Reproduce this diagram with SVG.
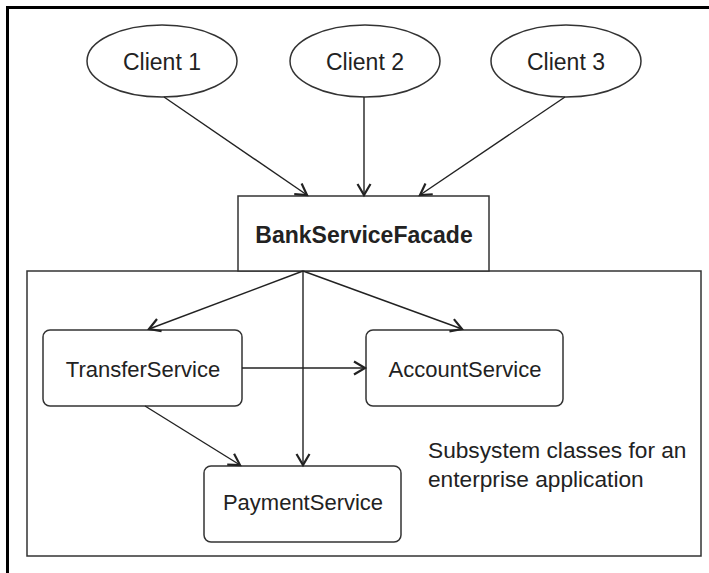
<svg xmlns="http://www.w3.org/2000/svg" width="709" height="573" viewBox="0 0 709 573">
<style>
.lbl{font-family:"Liberation Sans",Arial,sans-serif;font-size:22px;fill:#222;}
.node{fill:#fff;stroke:#333;stroke-width:1.5;}
.edge{fill:none;stroke:#222;stroke-width:1.4;marker-end:url(#arr);}
</style>
<defs>
<marker id="arr" markerUnits="userSpaceOnUse" markerWidth="16" markerHeight="16" refX="13" refY="8" orient="auto">
<path d="M2,1.5 L13,8 L2,14.5" fill="none" stroke="#222" stroke-width="2.2"/>
</marker>
</defs>
<rect width="709" height="573" fill="#fff"/>
<path d="M7.5,573 V7.5 H709" fill="none" stroke="#000" stroke-width="3"/>
<g id="subsystem">
<rect x="27" y="271" width="674" height="285" fill="none" stroke="#333" stroke-width="1.5"/>
<text class="lbl" x="428" y="458" style="font-size:22.7px">Subsystem classes for an</text>
<text class="lbl" x="428" y="487" style="font-size:22.7px">enterprise application</text>
</g>
<g id="client1">
<ellipse class="node" cx="162" cy="61" rx="75" ry="36"/>
<text class="lbl" x="162" y="70" text-anchor="middle" style="font-size:23px">Client 1</text>
</g>
<g id="client2">
<ellipse class="node" cx="365" cy="61" rx="75" ry="36"/>
<text class="lbl" x="365" y="70" text-anchor="middle" style="font-size:23px">Client 2</text>
</g>
<g id="client3">
<ellipse class="node" cx="566" cy="61" rx="75" ry="36"/>
<text class="lbl" x="566" y="70" text-anchor="middle" style="font-size:23px">Client 3</text>
</g>
<g id="facade">
<rect class="node" x="238" y="196" width="251" height="75"/>
<text class="lbl" x="364" y="243" text-anchor="middle" style="font-size:23px;font-weight:bold">BankServiceFacade</text>
</g>
<g id="transfer">
<rect class="node" x="43" y="330" width="199" height="76" rx="7"/>
<text class="lbl" x="143" y="377" text-anchor="middle">TransferService</text>
</g>
<g id="account">
<rect class="node" x="366" y="330" width="197" height="76" rx="7"/>
<text class="lbl" x="465" y="377" text-anchor="middle">AccountService</text>
</g>
<g id="payment">
<rect class="node" x="204" y="466" width="197" height="76" rx="7"/>
<text class="lbl" x="303" y="510" text-anchor="middle">PaymentService</text>
</g>
<g id="connectors">
<line class="edge" x1="164" y1="97" x2="307" y2="195"/>
<line class="edge" x1="364" y1="97" x2="364" y2="195"/>
<line class="edge" x1="565" y1="97" x2="420" y2="195"/>
<line class="edge" x1="303" y1="271" x2="149" y2="329"/>
<line class="edge" x1="303" y1="271" x2="462" y2="329"/>
<line class="edge" x1="303" y1="271" x2="303" y2="465"/>
<line class="edge" x1="242" y1="368" x2="365" y2="368"/>
<line class="edge" x1="145" y1="406" x2="240" y2="465"/>
</g>
</svg>
